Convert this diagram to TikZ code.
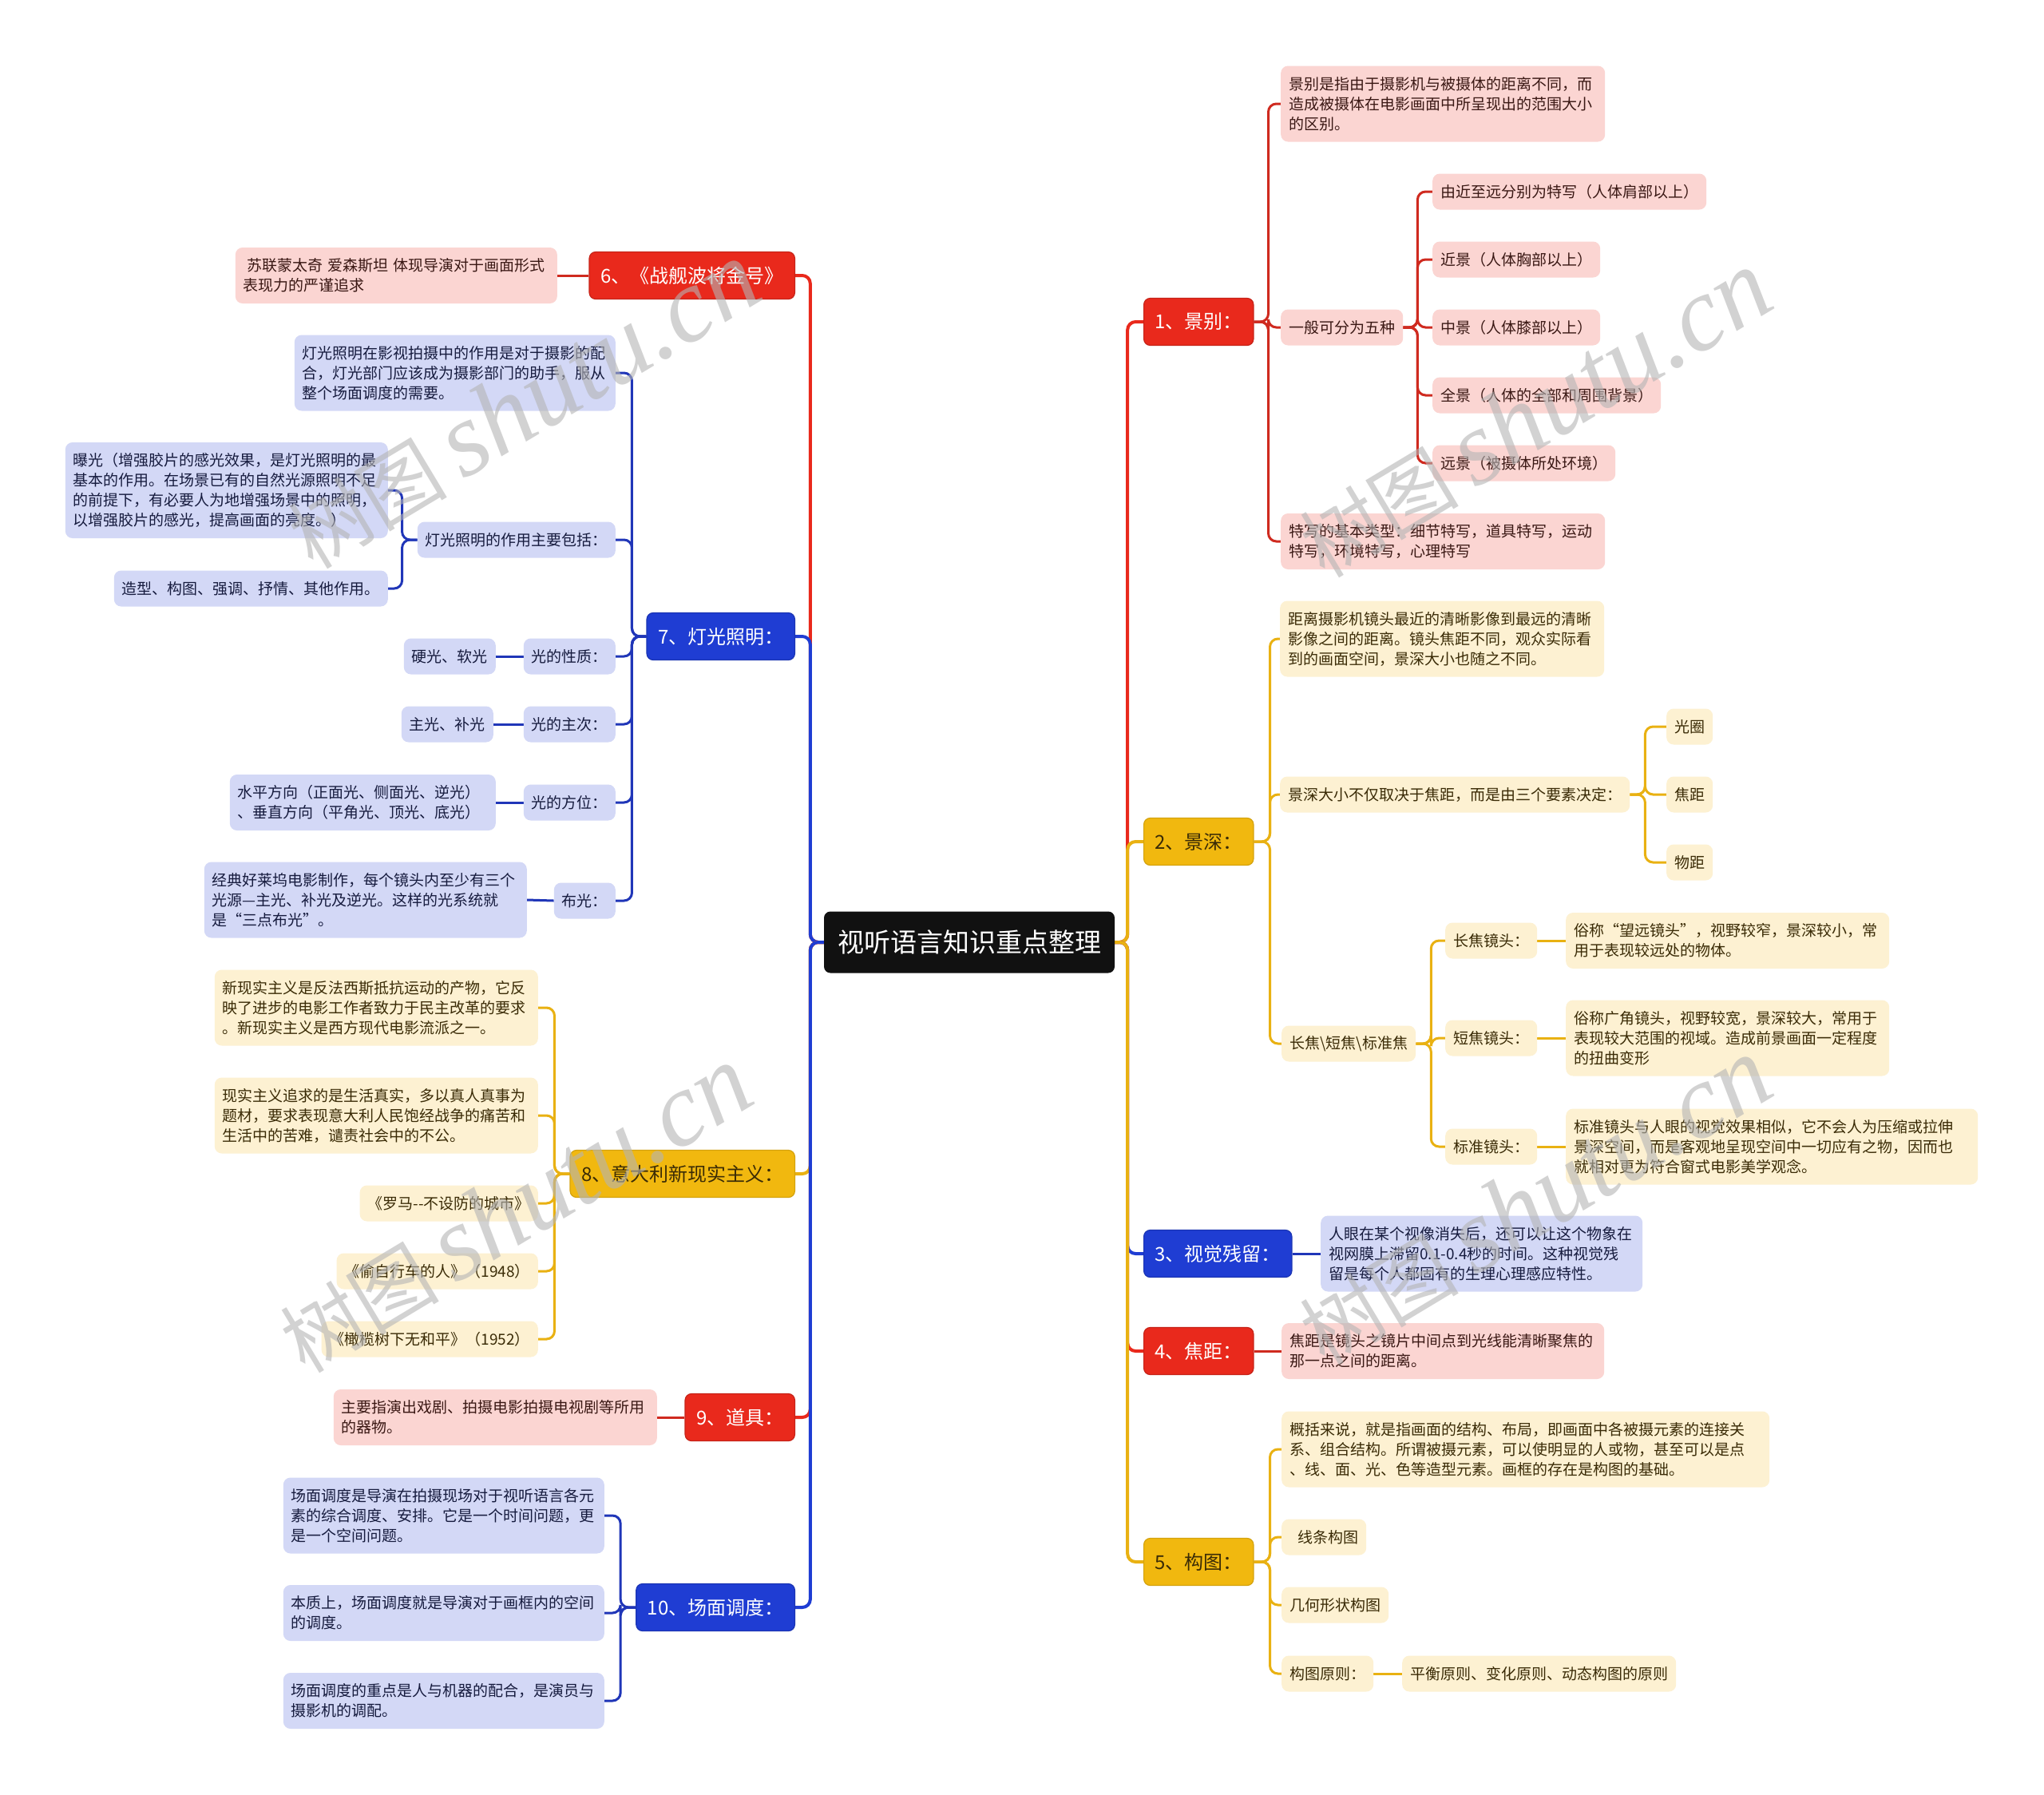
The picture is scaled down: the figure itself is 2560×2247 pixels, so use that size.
\documentclass[tikz,border=0pt]{standalone}
\usepackage{fontspec}
\setmainfont{Noto Sans CJK SC}
\newfontfamily\wmlatin{Liberation Serif}
\usetikzlibrary{calc}
\definecolor{rootblack}{HTML}{111111}
\definecolor{mainred}{HTML}{E9291C}
\definecolor{mainyel}{HTML}{F1B80F}
\definecolor{mainblue}{HTML}{1F3DD3}
\definecolor{kidred}{HTML}{FBD5D2}
\definecolor{kidyel}{HTML}{FDF1D2}
\definecolor{kidblue}{HTML}{D3D8F6}
\definecolor{txtred}{HTML}{3A1814}
\definecolor{txtyel}{HTML}{3A2B06}
\definecolor{txtblue}{HTML}{161B3E}
\definecolor{linered}{HTML}{CF2A1F}
\definecolor{lineyel}{HTML}{E9B112}
\definecolor{lineblue}{HTML}{2036B8}
\definecolor{wmgray}{HTML}{B4B4B4}
\newcommand\kidf{\fontsize{19}{25}\selectfont}
\newcommand\mainf{\fontsize{24}{30}\selectfont}
\newcommand\rootf{\fontsize{33}{40}\selectfont}
\newcommand\wmcjk{\fontsize{100}{108}\selectfont}
\newcommand\wmlat{\wmlatin\itshape\fontsize{132}{140}\selectfont}
\pgfdeclarelayer{back}
\pgfdeclarelayer{bg}
\pgfdeclarelayer{fg}
\pgfsetlayers{back,bg,main,fg}
\tikzset{
  kid/.style={inner xsep=10pt, inner ysep=2pt, rounded corners=9pt, font=\kidf},
  kr/.style={kid, fill=kidred, text=txtred},
  ky/.style={kid, fill=kidyel, text=txtyel},
  kb/.style={kid, fill=kidblue, text=txtblue},
  L1/.style={minimum height=45pt},
  L2/.style={minimum height=70pt, align=left},
  L3/.style={minimum height=95pt, align=left},
  L4/.style={minimum height=120pt, align=left},
  mainnode/.style={inner xsep=14pt, inner ysep=2pt, minimum height=59pt, rounded corners=8pt, font=\mainf, line width=1.2pt},
  mr/.style={mainnode, fill=mainred, draw=mainred!85!black, text=white},
  my/.style={mainnode, fill=mainyel, draw=mainyel!88!black, text=txtyel},
  mb/.style={mainnode, fill=mainblue, draw=mainblue!85!black, text=white},
  rootnode/.style={fill=rootblack, text=white, font=\rootf, minimum width=364pt, minimum height=77pt, rounded corners=8pt},
  br/.style={draw=mainred, line width=4pt, rounded corners=10pt},
  by/.style={draw=lineyel, line width=4pt, rounded corners=10pt},
  bb/.style={draw=mainblue, line width=4pt, rounded corners=10pt},
  cr/.style={draw=linered, line width=3pt, rounded corners=10pt},
  cy/.style={draw=lineyel, line width=3pt, rounded corners=10pt},
  cb/.style={draw=lineblue, line width=3pt, rounded corners=10pt},
  wm/.style={text=wmgray, opacity=0.6, rotate=31, inner sep=0pt}
}
\begin{document}
\begin{tikzpicture}[x=1pt,y=-1pt]
\begin{pgfonlayer}{back}
\fill[white] (0,0) rectangle (2560,2247);
\end{pgfonlayer}
\useasboundingbox (0,0) rectangle (2560,2247);

% root
\node[rootnode] (root) at (1214,1180) {视听语言知识重点整理};

% right main nodes
\node[mr, anchor=west] (n1) at (1432,403) {1、景别：};
\node[my, anchor=west] (n2) at (1432,1054) {2、景深：};
\node[mb, anchor=west] (n3) at (1432,1570) {3、视觉残留：};
\node[mr, anchor=west] (n4) at (1432,1692) {4、焦距：};
\node[my, anchor=west] (n5) at (1432,1956) {5、构图：};
% left main nodes
\node[mr, anchor=east] (n6) at (996,345) {6、《战舰波将金号》};
\node[mb, anchor=east] (n7) at (996,797) {7、灯光照明：};
\node[my, anchor=east] (n8) at (996,1470) {8、意大利新现实主义：};
\node[mr, anchor=east] (n9) at (996,1775) {9、道具：};
\node[mb, anchor=east] (n10) at (996,2013) {10、场面调度：};

% 1
\node[kr, L3, text width=386pt, anchor=west] (A1) at (1604,130) {景别是指由于摄影机与被摄体的距离不同，而\\造成被摄体在电影画面中所呈现出的范围大小\\的区别。};
\node[kr, L1, anchor=west] (A2) at (1604,410) {一般可分为五种};
\node[kr, L1, anchor=west] (A21) at (1794,240) {由近至远分别为特写（人体肩部以上）};
\node[kr, L1, anchor=west] (A22) at (1794,325) {近景（人体胸部以上）};
\node[kr, L1, anchor=west] (A23) at (1794,410) {中景（人体膝部以上）};
\node[kr, L1, anchor=west] (A24) at (1794,495) {全景（人体的全部和周围背景）};
\node[kr, L1, anchor=west] (A25) at (1794,580) {远景（被摄体所处环境）};
\node[kr, L2, text width=386pt, anchor=west] (A3) at (1604,678) {特写的基本类型：细节特写，道具特写，运动\\特写，环境特写，心理特写};

% 2
\node[ky, L3, text width=386pt, anchor=west] (B1) at (1603,800) {距离摄影机镜头最近的清晰影像到最远的清晰\\影像之间的距离。镜头焦距不同，观众实际看\\到的画面空间，景深大小也随之不同。};
\node[ky, L1, anchor=west] (B2) at (1603,995) {景深大小不仅取决于焦距，而是由三个要素决定：};
\node[ky, L1, anchor=west] (B21) at (2087,910) {光圈};
\node[ky, L1, anchor=west] (B22) at (2087,995) {焦距};
\node[ky, L1, anchor=west] (B23) at (2087,1080) {物距};
\node[ky, L1, anchor=west] (B3) at (1605,1307) {长焦\textbackslash 短焦\textbackslash 标准焦};
\node[ky, L1, anchor=west] (B31) at (1810,1178) {长焦镜头：};
\node[ky, L1, anchor=west] (B32) at (1810,1300) {短焦镜头：};
\node[ky, L1, anchor=west] (B33) at (1810,1436) {标准镜头：};
\node[ky, L2, text width=385pt, anchor=west] (B311) at (1961,1178) {俗称“望远镜头”，视野较窄，景深较小，常\\用于表现较远处的物体。};
\node[ky, L3, text width=385pt, anchor=west] (B321) at (1961,1300) {俗称广角镜头，视野较宽，景深较大，常用于\\表现较大范围的视域。造成前景画面一定程度\\的扭曲变形};
\node[ky, L3, text width=496pt, anchor=west] (B331) at (1961,1436) {标准镜头与人眼的视觉效果相似，它不会人为压缩或拉伸\\景深空间，而是客观地呈现空间中一切应有之物，因而也\\就相对更为符合窗式电影美学观念。};

% 3, 4
\node[kb, L3, text width=383pt, anchor=west] (C1) at (1654,1570) {人眼在某个视像消失后，还可以让这个物象在\\视网膜上滞留0.1-0.4秒的时间。这种视觉残\\留是每个人都固有的生理心理感应特性。};
\node[kr, L2, text width=384pt, anchor=west] (D1) at (1605,1692) {焦距是镜头之镜片中间点到光线能清晰聚焦的\\那一点之间的距离。};

% 5
\node[ky, L3, text width=591pt, anchor=west] (E1) at (1605,1815) {概括来说，就是指画面的结构、布局，即画面中各被摄元素的连接关\\系、组合结构。所谓被摄元素，可以使明显的人或物，甚至可以是点\\、线、面、光、色等造型元素。画框的存在是构图的基础。};
\node[ky, L1, anchor=west] (E2) at (1605,1925) {\hspace{10pt}线条构图};
\node[ky, L1, anchor=west] (E3) at (1605,2010) {几何形状构图};
\node[ky, L1, anchor=west] (E4) at (1605,2096) {构图原则：};
\node[ky, L1, anchor=west] (E41) at (1756,2096) {平衡原则、变化原则、动态构图的原则};

% 6
\node[kr, L2, text width=383pt, anchor=east] (F1) at (698,345) {\mbox{\hspace{5pt}苏联蒙太奇\hspace{6pt}爱森斯坦\hspace{6pt}体现导演对于画面形式}\\表现力的严谨追求};

% 7
\node[kb, L3, text width=382pt, anchor=east] (G1) at (771,467) {灯光照明在影视拍摄中的作用是对于摄影的配\\合，灯光部门应该成为摄影部门的助手，服从\\整个场面调度的需要。};
\node[kb, L1, anchor=east] (G2) at (771,676) {灯光照明的作用主要包括：};
\node[kb, L4, text width=384pt, anchor=east] (G21) at (486,614) {曝光（增强胶片的感光效果，是灯光照明的最\\基本的作用。在场景已有的自然光源照明不足\\的前提下，有必要人为地增强场景中的照明，\\以增强胶片的感光，提高画面的亮度。）};
\node[kb, L1, anchor=east] (G22) at (486,737) {造型、构图、强调、抒情、其他作用。};
\node[kb, L1, anchor=east] (G3) at (771,822) {光的性质：};
\node[kb, L1, anchor=east] (G31) at (621,822) {硬光、软光};
\node[kb, L1, anchor=east] (G4) at (771,907) {光的主次：};
\node[kb, L1, anchor=east] (G41) at (618,907) {主光、补光};
\node[kb, L1, anchor=east] (G5) at (771,1005) {光的方位：};
\node[kb, L2, text width=313pt, anchor=east] (G51) at (621,1005) {水平方向（正面光、侧面光、逆光）\\、垂直方向（平角光、顶光、底光）};
\node[kb, L1, anchor=east] (G6) at (771,1128) {布光：};
\node[kb, L3, text width=384pt, anchor=east] (G61) at (660,1127) {经典好莱坞电影制作，每个镜头内至少有三个\\光源—主光、补光及逆光。这样的光系统就\\是“三点布光”。};

% 8
\node[ky, L3, text width=385pt, anchor=east] (H1) at (674,1262) {新现实主义是反法西斯抵抗运动的产物，它反\\映了进步的电影工作者致力于民主改革的要求\\。新现实主义是西方现代电影流派之一。};
\node[ky, L3, text width=385pt, anchor=east] (H2) at (674,1397) {现实主义追求的是生活真实，多以真人真事为\\题材，要求表现意大利人民饱经战争的痛苦和\\生活中的苦难，谴责社会中的不公。};
\node[ky, L1, anchor=east] (H3) at (674,1507) {《罗马-{}-不设防的城市》};
\node[ky, L1, anchor=east] (H4) at (674,1592) {《偷自行车的人》（1948）};
\node[ky, L1, anchor=east] (H5) at (674,1677) {《橄榄树下无和平》（1952）};

% 9
\node[kr, L2, text width=385pt, anchor=east] (I1) at (823,1775) {主要指演出戏剧、拍摄电影拍摄电视剧等所用\\的器物。};

% 10
\node[kb, L3, text width=382pt, anchor=east] (J1) at (757,1898) {场面调度是导演在拍摄现场对于视听语言各元\\素的综合调度、安排。它是一个时间问题，更\\是一个空间问题。};
\node[kb, L2, text width=382pt, anchor=east] (J2) at (757,2020) {本质上，场面调度就是导演对于画框内的空间\\的调度。};
\node[kb, L2, text width=382pt, anchor=east] (J3) at (757,2130) {场面调度的重点是人与机器的配合，是演员与\\摄影机的调配。};

\begin{pgfonlayer}{bg}
% root branches right
\draw[br] (root.east) -- ++(16,0) |- (n1.west);
\draw[by] (root.east) -- ++(16,0) |- (n2.west);
\draw[bb] (root.east) -- ++(16,0) |- (n3.west);
\draw[br] (root.east) -- ++(16,0) |- (n4.west);
\draw[by] (root.east) -- ++(16,0) |- (n5.west);
% root branches left
\draw[br] (root.west) -- ++(-17,0) |- (n6.east);
\draw[bb] (root.west) -- ++(-17,0) |- (n7.east);
\draw[by] (root.west) -- ++(-17,0) |- (n8.east);
\draw[br] (root.west) -- ++(-17,0) |- (n9.east);
\draw[bb] (root.west) -- ++(-17,0) |- (n10.east);
% 1
\foreach \k in {A1,A2,A3} \draw[cr] (n1.east) -- ++(18,0) |- (\k.west);
\foreach \k in {A21,A22,A23,A24,A25} \draw[cr] (A2.east) -- ++(18,0) |- (\k.west);
% 2
\foreach \k in {B1,B2,B3} \draw[cy] (n2.east) -- ++(20,0) |- (\k.west);
\foreach \k in {B21,B22,B23} \draw[cy] (B2.east) -- ++(19,0) |- (\k.west);
\foreach \k in {B31,B32,B33} \draw[cy] (B3.east) -- ++(19,0) |- (\k.west);
\draw[cy] (B31.east) -- (B311.west);
\draw[cy] (B32.east) -- (B321.west);
\draw[cy] (B33.east) -- (B331.west);
% 3,4
\draw[cb] (n3.east) -- (C1.west);
\draw[cr] (n4.east) -- (D1.west);
% 5
\foreach \k in {E1,E2,E3,E4} \draw[cy] (n5.east) -- ++(20,0) |- (\k.west);
\draw[cy] (E4.east) -- (E41.west);
% 6
\draw[cr] (n6.west) -- (F1.east);
% 7
\foreach \k in {G1,G2,G3,G4,G5,G6} \draw[cb] (n7.west) -- ++(-18,0) |- (\k.east);
\foreach \k in {G21,G22} \draw[cb] (G2.west) -- ++(-19,0) |- (\k.east);
\draw[cb] (G3.west) -- (G31.east);
\draw[cb] (G4.west) -- (G41.east);
\draw[cb] (G5.west) -- (G51.east);
\draw[cb] (G6.west) -- (G61.east);
% 8
\foreach \k in {H1,H2,H3,H4,H5} \draw[cy] (n8.west) -- ++(-19,0) |- (\k.east);
% 9
\draw[cr] (n9.west) -- (I1.east);
% 10
\foreach \k in {J1,J2,J3} \draw[cb] (n10.west) -- ++(-19,0) |- (\k.east);
\end{pgfonlayer}

\begin{pgfonlayer}{fg}
\node[wm] (w1) at (655,508) {{\wmcjk 树图}\hspace{20pt}{\wmlat shutu.cn}};
\node[wm] (w2) at (1922,519) {{\wmcjk 树图}\hspace{20pt}{\wmlat shutu.cn}};
\node[wm] (w3) at (645,1515) {{\wmcjk 树图}\hspace{20pt}{\wmlat shutu.cn}};
\node[wm] (w4) at (1922,1505) {{\wmcjk 树图}\hspace{20pt}{\wmlat shutu.cn}};
\end{pgfonlayer}
\end{tikzpicture}
\end{document}
